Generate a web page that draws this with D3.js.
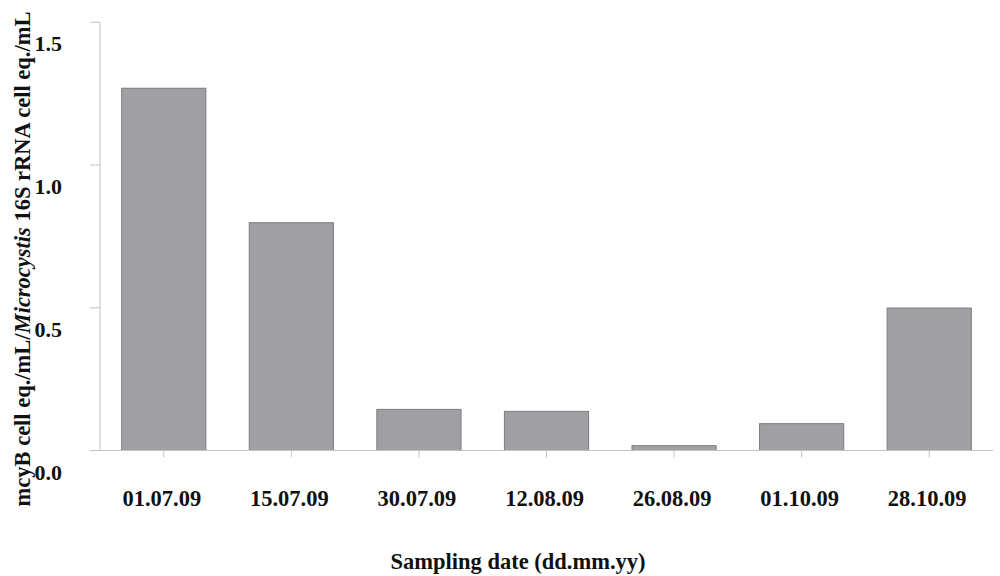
<!DOCTYPE html>
<html>
<head>
<meta charset="utf-8">
<script src="https://cdn.jsdelivr.net/npm/d3@7"></script>
<style>
  body { margin: 0; background: #fff; }
  text { font-family: "Liberation Serif", "Times New Roman", serif; font-weight: bold; fill: #111; }
</style>
</head>
<body>
<svg id="canvas" width="1000" height="576"></svg>
<script>
let dates = ['01.07.09', '15.07.09', '30.07.09', '12.08.09', '26.08.09', '01.10.09', '28.10.09']
let ratios = [1.269, 0.798, 0.144, 0.137, 0.017, 0.094, 0.499]
let yTicks = [0.0, 0.5, 1.0, 1.5]

let canvas = d3.select('#canvas')

let plotLeft = 100, plotRight = 993, plotTop = 22.3, plotBottom = 450.5

let x = d3.scaleBand()
    .domain(dates)
    .range([plotLeft, plotRight])
    .paddingInner(0.34)
    .paddingOuter(0.17)

let xTickPos = d3.scaleBand()
    .domain(dates)
    .range([plotLeft, plotRight])

let y = d3.scaleLinear()
    .domain([0, 1.5])
    .range([plotBottom, plotTop])

// y axis
let yAxis = canvas.append('g')
yAxis.append('line')
    .attr('x1', plotLeft).attr('x2', plotLeft)
    .attr('y1', y(1.5)).attr('y2', y(0))
    .attr('stroke', '#c3c3c3')
yAxis.selectAll('.ytick')
    .data(yTicks)
    .enter()
    .append('line')
    .attr('x1', 90).attr('x2', plotLeft)
    .attr('y1', (d) => y(d)).attr('y2', (d) => y(d))
    .attr('stroke', '#c3c3c3')
yAxis.selectAll('.ylab')
    .data(yTicks)
    .enter()
    .append('text')
    .text((d) => d.toFixed(1))
    .attr('x', 62)
    .attr('y', (d) => y(d) + 29)
    .attr('text-anchor', 'end')
    .style('font-size', '22px')

// bars
canvas.selectAll('.bar')
    .data(dates)
    .enter()
    .append('rect')
    .attr('class', 'bar')
    .attr('x', (d) => x(d))
    .attr('width', x.bandwidth())
    .attr('y', (d, i) => y(ratios[i]))
    .attr('height', (d, i) => y(0) - y(ratios[i]))
    .attr('fill', '#a09fa4')
    .attr('stroke', '#7d7c80')
    .attr('stroke-width', 1)

// x axis
let xAxis = canvas.append('g')
xAxis.append('line')
    .attr('x1', 90).attr('x2', plotRight)
    .attr('y1', plotBottom).attr('y2', plotBottom)
    .attr('stroke', '#c3c3c3')
xAxis.selectAll('.xtick')
    .data(dates)
    .enter()
    .append('line')
    .attr('x1', (d) => xTickPos(d) + xTickPos.bandwidth() / 2)
    .attr('x2', (d) => xTickPos(d) + xTickPos.bandwidth() / 2)
    .attr('y1', plotBottom).attr('y2', plotBottom + 7)
    .attr('stroke', '#c3c3c3')
xAxis.selectAll('.xlab')
    .data(dates)
    .enter()
    .append('text')
    .text((d) => d)
    .attr('x', (d) => xTickPos(d) + xTickPos.bandwidth() / 2 - 2)
    .attr('y', 506)
    .attr('text-anchor', 'middle')
    .style('font-size', '22.5px')

canvas.append('text')
    .text('Sampling date (dd.mm.yy)')
    .attr('x', 518)
    .attr('y', 569)
    .attr('text-anchor', 'middle')
    .style('font-size', '22.5px')

let yTitle = canvas.append('text')
    .attr('transform', 'translate(30, 259) rotate(-90)')
    .attr('text-anchor', 'middle')
    .style('font-size', '22.5px')
yTitle.append('tspan').text('mcyB cell eq./mL/')
yTitle.append('tspan').text('Microcystis').style('font-style', 'italic')
yTitle.append('tspan').text(' 16S rRNA cell eq./mL')
</script>
</body>
</html>
